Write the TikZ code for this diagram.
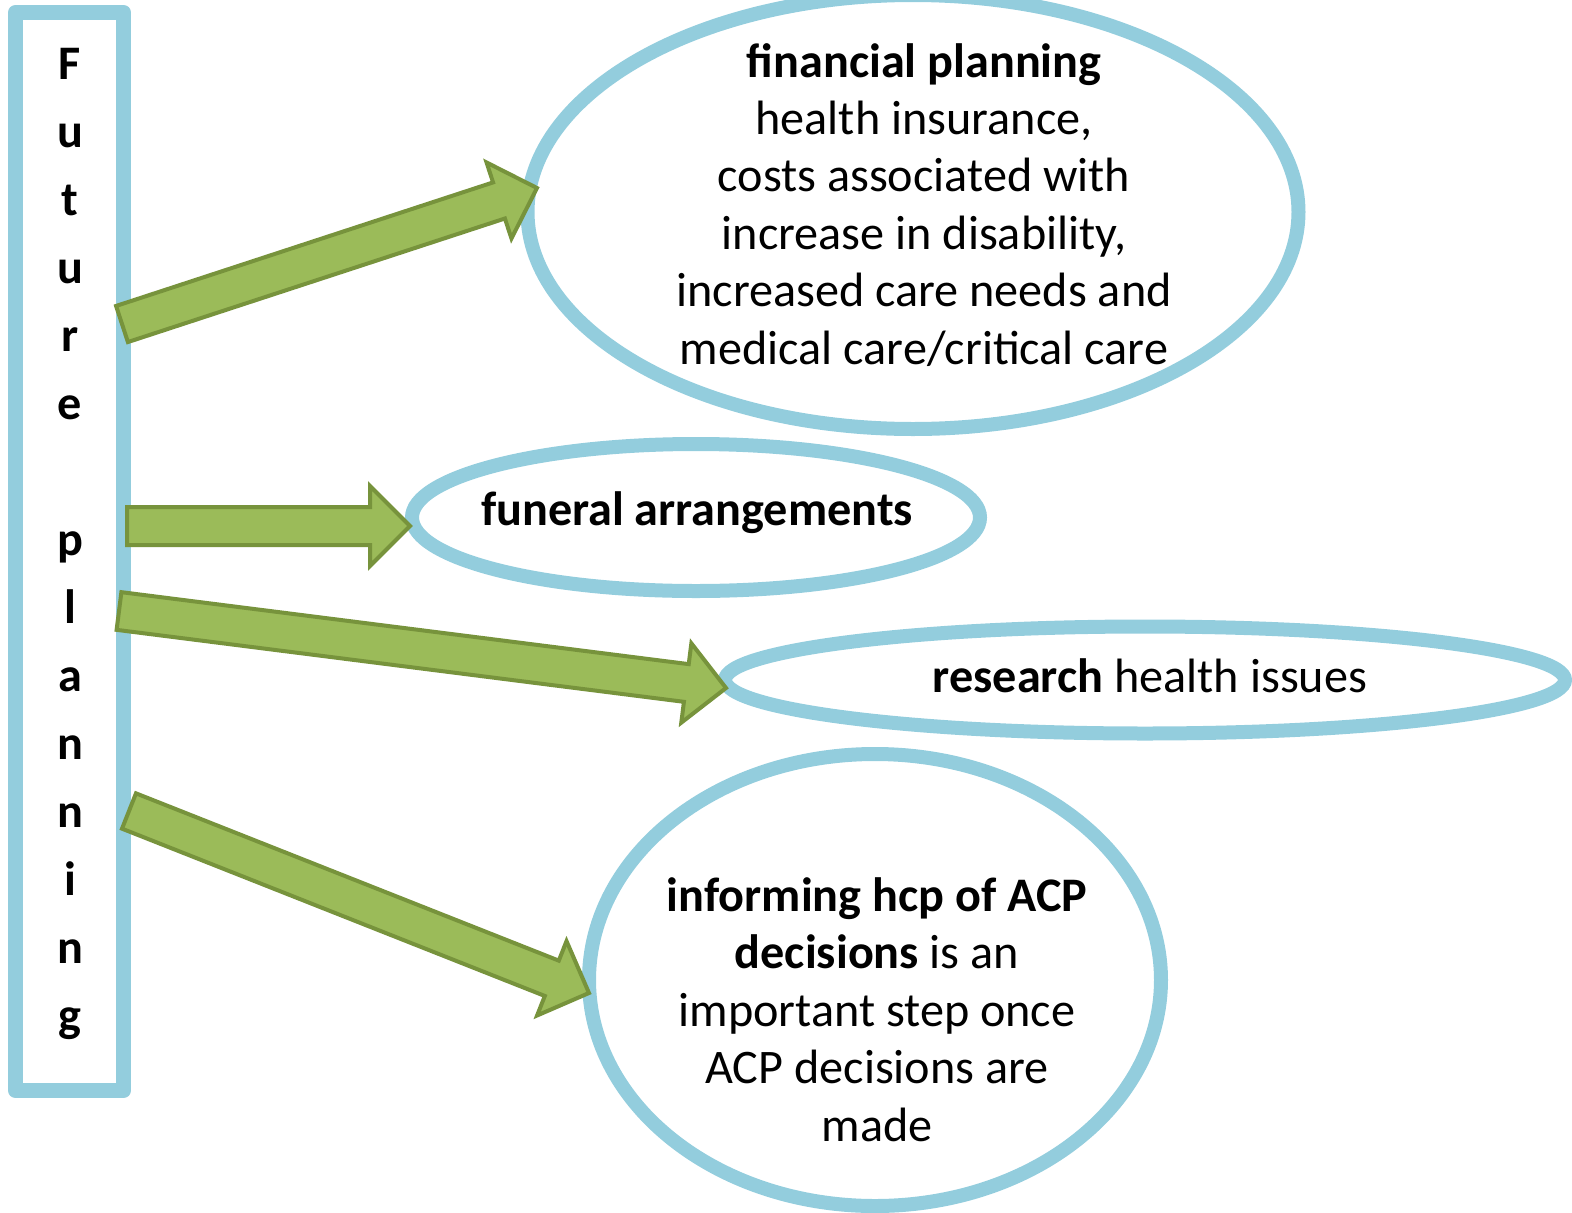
\documentclass[tikz,border=0pt]{standalone}
\usepackage{fontspec}
\setmainfont{Carlito}
\usetikzlibrary{calc,shapes.geometric}
\definecolor{frameblue}{HTML}{93CDDD}
\definecolor{arrowfill}{HTML}{9BBB59}
\definecolor{arrowline}{HTML}{77933C}
\tikzset{
  bigtext/.style={font=\fontsize{48.2}{57.4}\selectfont, align=center, inner sep=0pt, anchor=base},
  bubble/.style={draw=frameblue, line width=14pt, ellipse, inner sep=0pt, outer sep=0pt},
  framebox/.style={draw=frameblue, line width=15pt, line join=round, rectangle, inner sep=0pt},
  arrowstyle/.style={fill=arrowfill, draw=arrowline, line width=4pt, line join=miter},
}
\newcommand\blockarrow[2]{%
  \coordinate (ba-b) at ($(#2)!40pt!(#1)$);
  \draw[arrowstyle] ($(#1)!19pt!90:(#2)$) -- ($(ba-b)!19pt!90:(#2)$)
    -- ($(ba-b)!40pt!90:(#2)$) -- (#2) -- ($(ba-b)!40pt!-90:(#2)$)
    -- ($(ba-b)!19pt!-90:(#2)$) -- ($(#1)!19pt!-90:(#2)$) -- cycle;
}
\begin{document}
\begin{tikzpicture}[x=1pt,y=-1pt]
\useasboundingbox (0,0) rectangle (1572,1213);

% left frame
\node[framebox, minimum width=108pt, minimum height=1078pt] (fp) at (69.5,551.5) {};
\node[bigtext, font=\fontsize{48.2}{68}\selectfont\bfseries] (fptext) at (70,1031)
  {F\\u\\t\\u\\r\\e\\\mbox{}\\p\\l\\a\\n\\n\\i\\n\\g};

% ellipses
\node[bubble, minimum width=771pt, minimum height=434pt] (e1) at (913,212) {};
\node[bubble, minimum width=568pt, minimum height=147pt] (e2) at (696,517.5) {};
\node[bubble, minimum width=840pt, minimum height=107pt] (e3) at (1145,680) {};
\node[bubble, minimum width=572pt, minimum height=452pt] (e4) at (875,980) {};

% texts (anchor=base: baseline of the last line)
\node[bigtext] (t1) at (924,364) {\textbf{financial planning}\\health insurance,\\costs associated with\\increase in disability,\\increased care needs and\\medical care/critical care};
\node[bigtext] (t2) at (697,525) {\textbf{funeral arrangements}};
\node[bigtext] (t3) at (1150,692) {\textbf{research} health issues};
\node[bigtext] (t4) at (877,1141) {\textbf{informing hcp of ACP}\\\textbf{decisions} is an\\important step once\\ACP decisions are\\made};

% arrow end points
\coordinate (a1s) at ($(fp.east)+(-9,-227.5)$);
\coordinate (a1t) at (537,188);
\coordinate (a2s) at ($(fp.east)+(-4,-25.5)$);
\coordinate (a2t) at (410,526);
\coordinate (a3s) at ($(fp.east)+(-12,59.5)$);
\coordinate (a3t) at (726,688);
\coordinate (a4s) at ($(fp.east)+(-2,259.5)$);
\coordinate (a4t) at (589,993);

\blockarrow{a1s}{a1t}
\blockarrow{a2s}{a2t}
\blockarrow{a3s}{a3t}
\blockarrow{a4s}{a4t}
\end{tikzpicture}
\end{document}
